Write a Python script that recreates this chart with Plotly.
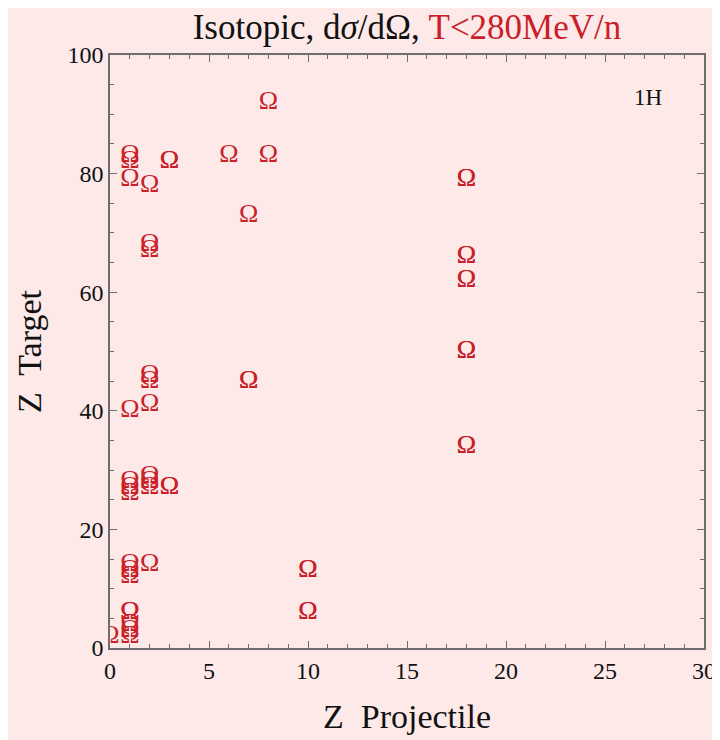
import plotly.graph_objects as go

# Data: (Z projectile, Z target) for each measured point; duplicates = overlapping entries
z_proj = [8, 6, 8, 3, 3, 1, 1, 1, 2, 7, 2, 2,
          18, 18, 18, 18, 18, 18, 18, 18, 18, 18,
          7, 7, 2, 2, 1, 2,
          1, 1, 1, 2, 2, 2, 3, 3,
          1, 1, 1, 2, 10, 10, 10, 10,
          1, 1, 1, 1, 1]
z_targ = [92, 83, 83, 82, 82, 83, 82, 79, 78, 73, 68, 67,
          79, 79, 66, 66, 62, 62, 50, 50, 34, 34,
          45, 45, 46, 45, 40, 41,
          28, 27, 26, 29, 28, 27, 27, 27,
          14, 13, 12, 14, 13, 13, 6, 6,
          6, 4, 3, 2, 6]
edge_proj = [0]
edge_targ = [2]

RED = "#c9202a"
PINK = "#fde9e8"
FONT = "Liberation Serif"

fig = go.Figure()
fig.add_trace(go.Scatter(x=z_proj, y=z_targ, mode="text", text=["Ω"] * len(z_proj),
                         textposition="middle center",
                         textfont=dict(family=FONT, size=26, color=RED),
                         cliponaxis=False, hoverinfo="x+y", showlegend=False))
fig.add_trace(go.Scatter(x=edge_proj, y=edge_targ, mode="text", text=["Ω"] * len(edge_proj),
                         textposition="middle center",
                         textfont=dict(family=FONT, size=26, color=RED),
                         cliponaxis=True, hoverinfo="x+y", showlegend=False))

axis_common = dict(showline=True, linecolor="#6e6e6e", linewidth=1.5, mirror="allticks",
                   ticks="inside", tickcolor="#6e6e6e", tickwidth=1, showgrid=False,
                   zeroline=False, tickfont=dict(family=FONT, size=24, color="#111"))

fig.update_xaxes(range=[0, 30], tick0=0, dtick=5, ticklen=7,
                 minor=dict(dtick=1, ticklen=4, ticks="inside", tickcolor="#6e6e6e"),
                 title=dict(text="Z  Projectile", font=dict(family=FONT, size=34, color="#111"),
                            standoff=22),
                 **axis_common)
fig.update_yaxes(range=[0, 100], tick0=0, dtick=20, ticklen=7,
                 minor=dict(dtick=5, ticklen=4, ticks="inside", tickcolor="#6e6e6e"),
                 title=dict(text="Z  Target", font=dict(family=FONT, size=34, color="#111"),
                            standoff=16),
                 **axis_common)

fig.update_layout(
    width=720, height=740,
    margin=dict(l=102, r=20, t=47, b=100),
    paper_bgcolor=PINK, plot_bgcolor=PINK,
    title=dict(text="Isotopic, d<i>σ</i>/dΩ, <span style='color:%s'>T&lt;280MeV/n</span>" % RED,
               x=0.5, xref="paper", y=0.974, yref="container", xanchor="center", yanchor="middle",
               font=dict(family=FONT, size=35, color="#111")),
    annotations=[dict(text="1H", x=0.933, y=0.952, xref="paper", yref="paper",
                      showarrow=False, font=dict(family=FONT, size=23, color="#111"))],
)

fig.write_html("out.html")
